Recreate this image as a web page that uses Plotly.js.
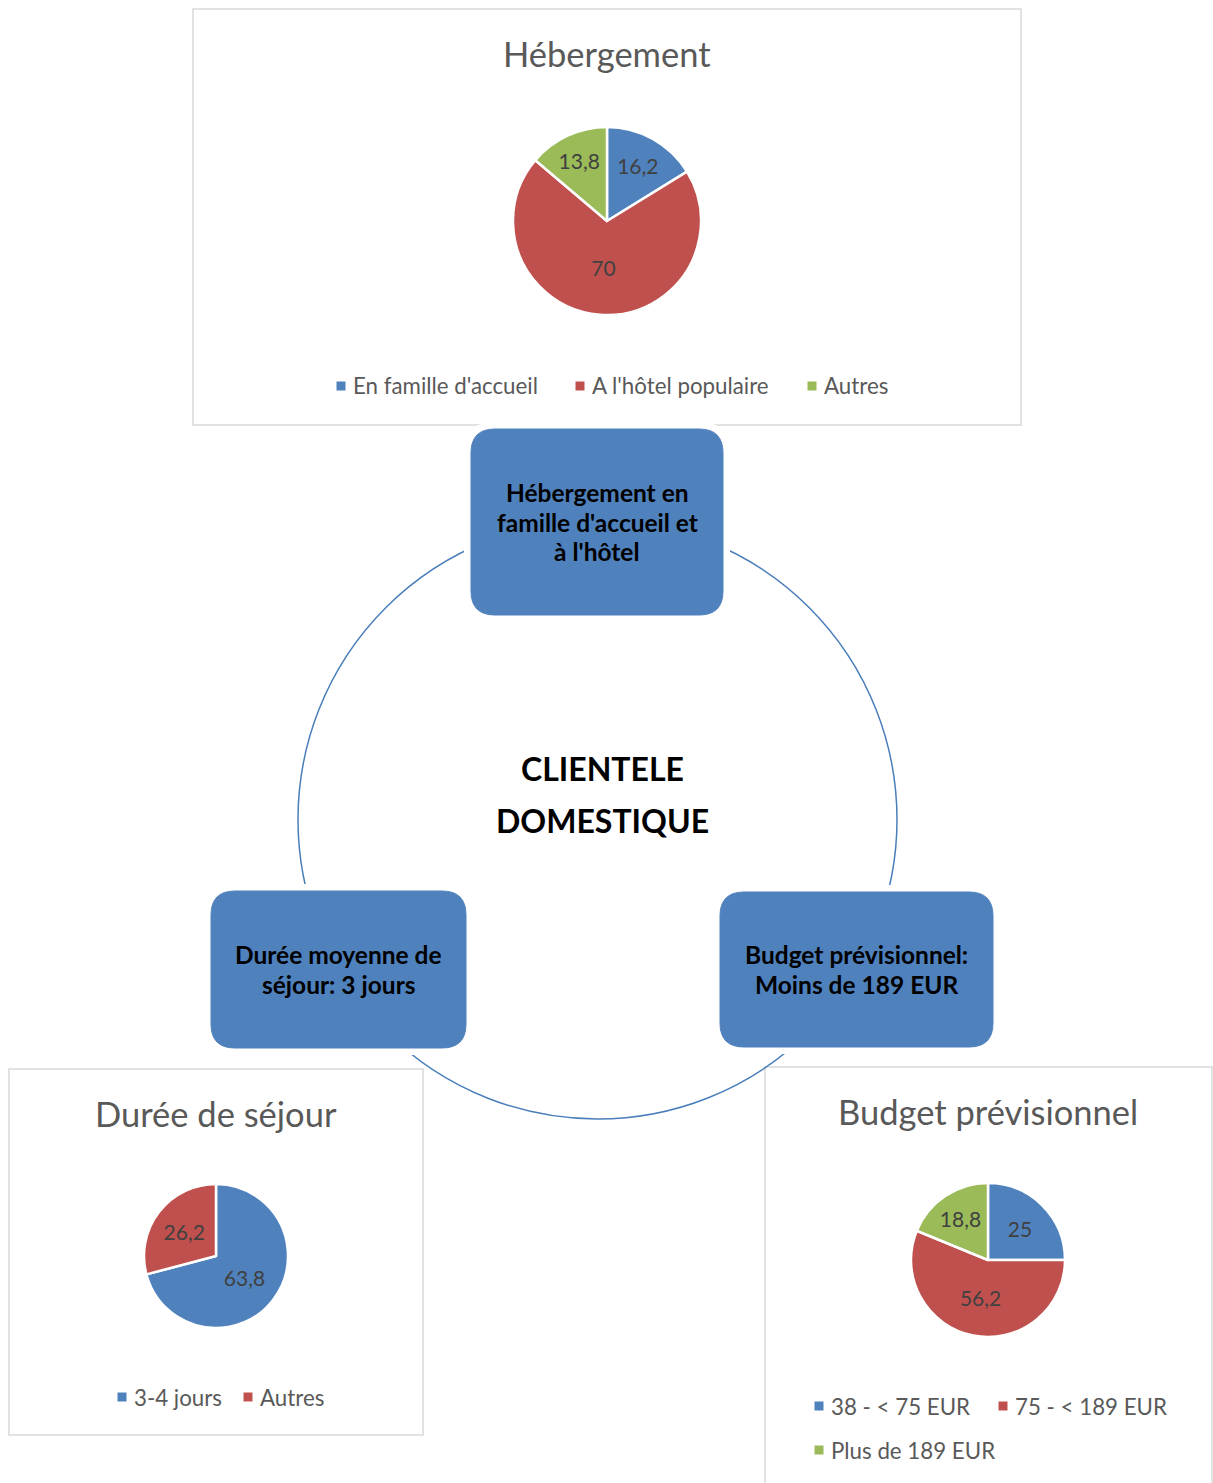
<!DOCTYPE html>
<html><head><meta charset="utf-8">
<script src="https://cdn.plot.ly/plotly-3.0.1.min.js"></script>
<style>html,body{margin:0;padding:0;background:#fff}#chart{width:1213px;height:1483px}</style>
</head><body><div id="chart"></div>
<script>
// ---------- DATA ----------
const hebergementLabels = ["En famille d'accueil", "A l'hôtel populaire", "Autres"];
const hebergementValues = [16.2, 70, 13.8];
const dureeLabels = ["3-4 jours", "Autres"];
const dureeValues = [63.8, 26.2];
const budgetLabels = ["38 - < 75 EUR", "75 - < 189 EUR", "Plus de 189 EUR"];
const budgetValues = [25, 56.2, 18.8];
const chartTitles = ["Hébergement", "Durée de séjour", "Budget prévisionnel"];
const nodeTexts = [
  ["Hébergement en", "famille d'accueil et", "à l'hôtel"],
  ["Durée moyenne de", "séjour: 3 jours"],
  ["Budget prévisionnel:", "Moins de 189 EUR"]
];
const centerText = ["CLIENTELE", "DOMESTIQUE"];
const sliceColors = ["#4F81BD", "#C0504D", "#9BBB59"];

// ---------- LAYOUT HELPERS ----------
const W = 1213, H = 1483;
const FONT = "Lato, 'Open Sans', 'DejaVu Sans', sans-serif";
const X = px => px / W;
const Y = py => 1 - py / H;

function pieTrace(labels, values, cx, cy, r) {
  return {
    type: 'pie', labels: labels, values: values, sort: false,
    direction: 'clockwise', rotation: 0,
    textinfo: 'value', textposition: 'inside', insidetextorientation: 'horizontal',
    textfont: {family: FONT, size: 21, color: '#404040'},
    marker: {colors: sliceColors.slice(0, labels.length), line: {color: '#ffffff', width: 2.5}},
    domain: {x: [X(cx - r), X(cx + r)], y: [Y(cy + r), Y(cy - r)]},
    showlegend: false, hoverinfo: 'none'
  };
}

function roundRectPath(x0, y0, x1, y1, r) {
  const p = (x, y) => X(x) + ',' + Y(y);
  return 'M' + p(x0 + r, y0) + ' L' + p(x1 - r, y0) + ' Q' + p(x1, y0) + ' ' + p(x1, y0 + r) +
    ' L' + p(x1, y1 - r) + ' Q' + p(x1, y1) + ' ' + p(x1 - r, y1) +
    ' L' + p(x0 + r, y1) + ' Q' + p(x0, y1) + ' ' + p(x0, y1 - r) +
    ' L' + p(x0, y0 + r) + ' Q' + p(x0, y0) + ' ' + p(x0 + r, y0) + ' Z';
}

const shapes = [];
const annotations = [];

// chart frames
const frames = [[193, 9, 1021, 425], [9, 1069, 423, 1435], [765, 1067, 1212, 1495]];
frames.forEach(f => shapes.push({type: 'rect', xref: 'paper', yref: 'paper', layer: 'below',
  x0: X(f[0]), y0: Y(f[3]), x1: X(f[2]), y1: Y(f[1]),
  fillcolor: '#ffffff', line: {color: '#D9D9D9', width: 1.5}}));

// big circle
const cc = [597.5, 819.5], cr = 299.5;
shapes.push({type: 'circle', xref: 'paper', yref: 'paper', layer: 'below',
  x0: X(cc[0] - cr), x1: X(cc[0] + cr), y0: Y(cc[1] + cr), y1: Y(cc[1] - cr),
  line: {color: '#4A7EBB', width: 1.5}});

// nodes
const nodes = [[471, 429, 723, 615], [211, 891, 466, 1048], [720, 892, 993, 1047]];
const gap = 7;
nodes.forEach(n => shapes.push({type: 'path', xref: 'paper', yref: 'paper', layer: 'below',
  path: roundRectPath(n[0] - gap, n[1] - gap, n[2] + gap, n[3] + gap, 30),
  fillcolor: '#ffffff', line: {width: 0}}));
nodes.forEach(n => shapes.push({type: 'path', xref: 'paper', yref: 'paper', layer: 'below',
  path: roundRectPath(n[0], n[1], n[2], n[3], 24),
  fillcolor: '#4F81BD', line: {color: '#4F81BD', width: 1}}));

// node texts
nodes.forEach((n, i) => {
  const lines = nodeTexts[i];
  const cx = (n[0] + n[2]) / 2, cy = (n[1] + n[3]) / 2;
  const lh = 29.5;
  lines.forEach((t, j) => annotations.push({xref: 'paper', yref: 'paper', showarrow: false,
    x: X(cx), y: Y(cy + (j - (lines.length - 1) / 2) * lh), xanchor: 'center', yanchor: 'middle',
    text: '<b>' + t + '</b>', font: {family: FONT, size: 24.5, color: '#000000'}}));
});

// center text
centerText.forEach((t, j) => annotations.push({xref: 'paper', yref: 'paper', showarrow: false,
  x: X(602), y: Y(769 + j * 51), xanchor: 'center', yanchor: 'middle',
  text: '<b>' + t + '</b>', font: {family: FONT, size: 32, color: '#000000'}}));

// titles
const titlePos = [[607, 53], [216, 1113], [988, 1111]];
chartTitles.forEach((t, i) => annotations.push({xref: 'paper', yref: 'paper', showarrow: false,
  x: X(titlePos[i][0]), y: Y(titlePos[i][1]), xanchor: 'center', yanchor: 'middle',
  text: t, font: {family: FONT, size: 34.5, color: '#595959'}}));

// custom legends
function legend(labels, positions) {
  labels.forEach((lab, i) => {
    const [mx, my] = positions[i];
    shapes.push({type: 'rect', xref: 'paper', yref: 'paper', layer: 'above',
      x0: X(mx - 4.5), x1: X(mx + 4.5), y0: Y(my + 4.5), y1: Y(my - 4.5),
      fillcolor: sliceColors[i], line: {width: 0}});
    annotations.push({xref: 'paper', yref: 'paper', showarrow: false,
      x: X(mx + 10), y: Y(my), xanchor: 'left', yanchor: 'middle',
      text: lab, font: {family: FONT, size: 22.3, color: '#595959'}});
  });
}
legend(hebergementLabels, [[341, 386], [580, 386], [812, 386]]);
legend(dureeLabels, [[122, 1397], [248, 1397]]);
legend(budgetLabels, [[819, 1406], [1003, 1406], [819, 1450]]);

const data = [
  pieTrace(hebergementLabels, hebergementValues, 607, 221, 94),
  pieTrace(dureeLabels, dureeValues, 216, 1256, 72),
  pieTrace(budgetLabels, budgetValues, 988, 1260, 77)
];

const layout = {
  width: W, height: H, margin: {l: 0, r: 0, t: 0, b: 0},
  paper_bgcolor: '#ffffff', plot_bgcolor: '#ffffff',
  separators: ', ', showlegend: false,
  font: {family: FONT},
  shapes: shapes, annotations: annotations
};
Plotly.newPlot('chart', data, layout, {displayModeBar: false, staticPlot: true});
</script>
</body></html>
